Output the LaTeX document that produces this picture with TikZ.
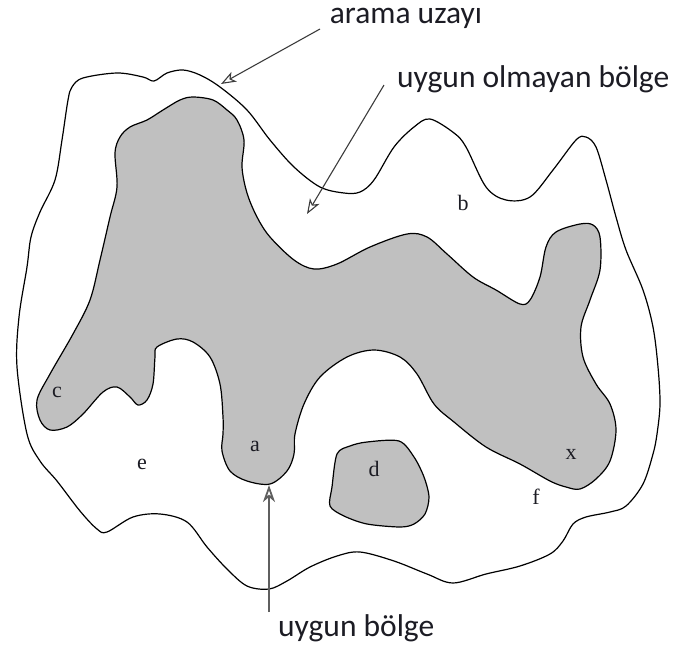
\documentclass[tikz,border=0pt]{standalone}
\usepackage{fontspec}
\setmainfont{Liberation Serif}
\newfontfamily\calib{Carlito}
\usetikzlibrary{arrows.meta}
\definecolor{shade}{RGB}{192,192,192}
\definecolor{ink}{RGB}{28,28,36}
\definecolor{arrowgray}{RGB}{60,60,60}
\definecolor{arrowgrayb}{RGB}{95,95,95}
\begin{document}
\begin{tikzpicture}[x=1pt,y=-1pt,
  region/.style={draw=black, line width=1.2pt, line join=round},
  feasible/.style={region, fill=shade},
  pointer/.style={draw=arrowgray, line width=1.1pt, -{Stealth[open,length=15pt,width=11pt,inset=4pt]}},
  pointerb/.style={draw=arrowgrayb, line width=1.8pt, -{Stealth[open,length=17pt,width=12pt,inset=5pt]}},
  lbl/.style={font=\fontsize{22}{25}\selectfont, inner sep=0pt, text=ink},
  callout/.style={font=\calib\fontsize{31.5}{37}\selectfont, inner sep=0pt, text=ink}]
\useasboundingbox (0,0) rectangle (680,651);
% search space
\draw[region] plot[smooth cycle, tension=0.55] coordinates {
 (72,87) (83,78) (117,73) (143,77) (154,81) (167,73) (183,70) (200,75) (220,87)
 (247,110) (270,140) (294,167) (320,187) (344,193) (360,192) (374,180) (394,147)
 (414,127) (430,119) (454,133) (466,147) (486,187) (506,200) (530,197) (553,170)
 (576,140) (586,137) (596,147) (606,180) (616,217) (626,250) (643,290) (653,327)
 (658,367) (660,404) (657,434) (653,454) (643,484) (626,506) (610,512) (586,517)
 (573,524) (563,541) (550,554) (520,566) (486,574) (453,583) (427,574) (394,561)
 (360,552) (337,556) (310,567) (287,581) (269,589) (247,586) (227,569) (207,547)
 (187,522) (160,514) (133,517) (107,532) (97,529) (80,511) (57,481) (40,461)
 (27,434) (17,367) (19,317) (27,267) (31,237) (40,212) (55,180) (62,140) (68,100)};
% big feasible region
\draw[feasible] plot[smooth cycle, tension=0.55] coordinates {
 (193,97) (213,100) (227,110) (237,120) (244,140) (242,167) (247,193) (257,217)
 (270,237) (294,260) (314,269) (337,264) (370,247) (407,234) (427,237) (447,254)
 (473,277) (496,290) (520,304) (530,300) (540,277) (546,247) (556,232) (580,224)
 (593,225) (600,237) (600,270) (590,300) (581,327) (583,357) (596,384) (610,404)
 (616,430) (610,461) (596,479) (580,489) (566,487) (550,481) (520,464) (486,447)
 (454,422) (434,404) (417,374) (400,357) (374,350) (347,357) (320,377) (304,404)
 (295,434) (294,454) (287,471) (270,484) (247,481) (230,471) (222,451) (223,434)
 (223,417) (220,384) (210,357) (193,342) (177,339) (157,347) (155,357) (153,384)
 (147,400) (138,405) (130,397) (117,387) (103,392) (83,414) (67,427) (50,430)
 (40,420) (37,400) (50,374) (73,334) (90,300) (100,260) (110,217) (117,187)
 (115,153) (120,137) (130,127) (147,120) (163,110) (180,100)};
% small feasible region d
\draw[feasible] plot[smooth cycle, tension=0.5] coordinates {
 (337,454) (350,446) (367,442) (399,441) (414,457) (424,477) (429,497) (425,514)
 (414,524) (400,527) (367,524) (344,516) (330,506) (332,487)};
% point labels
\node[lbl] (lb) at (463,203) {b};
\node[lbl] (lc) at (57,392) {c};
\node[lbl] (le) at (142,464) {e};
\node[lbl] (la) at (255,446) {a};
\node[lbl] (ld) at (374,469) {d};
\node[lbl] (lx) at (571,454) {x};
\node[lbl] (lf) at (536,497) {f};
% callouts
\node[callout, anchor=base] (arama) at (406,23) {arama uzayı};
\node[callout, anchor=base west] (infeas) at (397,87) {uygun olmayan bölge};
\node[callout, anchor=base west] (feas) at (278,636) {uygun bölge};
\coordinate (s1) at (320,29);
\coordinate (t1) at (221,84);
\coordinate (s2) at (384,85);
\coordinate (t2) at (307,214);
\coordinate (s3) at (269,612);
\coordinate (t3) at (269,485);
\draw[pointer] (s1) -- (t1);
\draw[pointer] (s2) -- (t2);
\draw[pointerb] (s3) -- (t3);
\end{tikzpicture}
\end{document}
